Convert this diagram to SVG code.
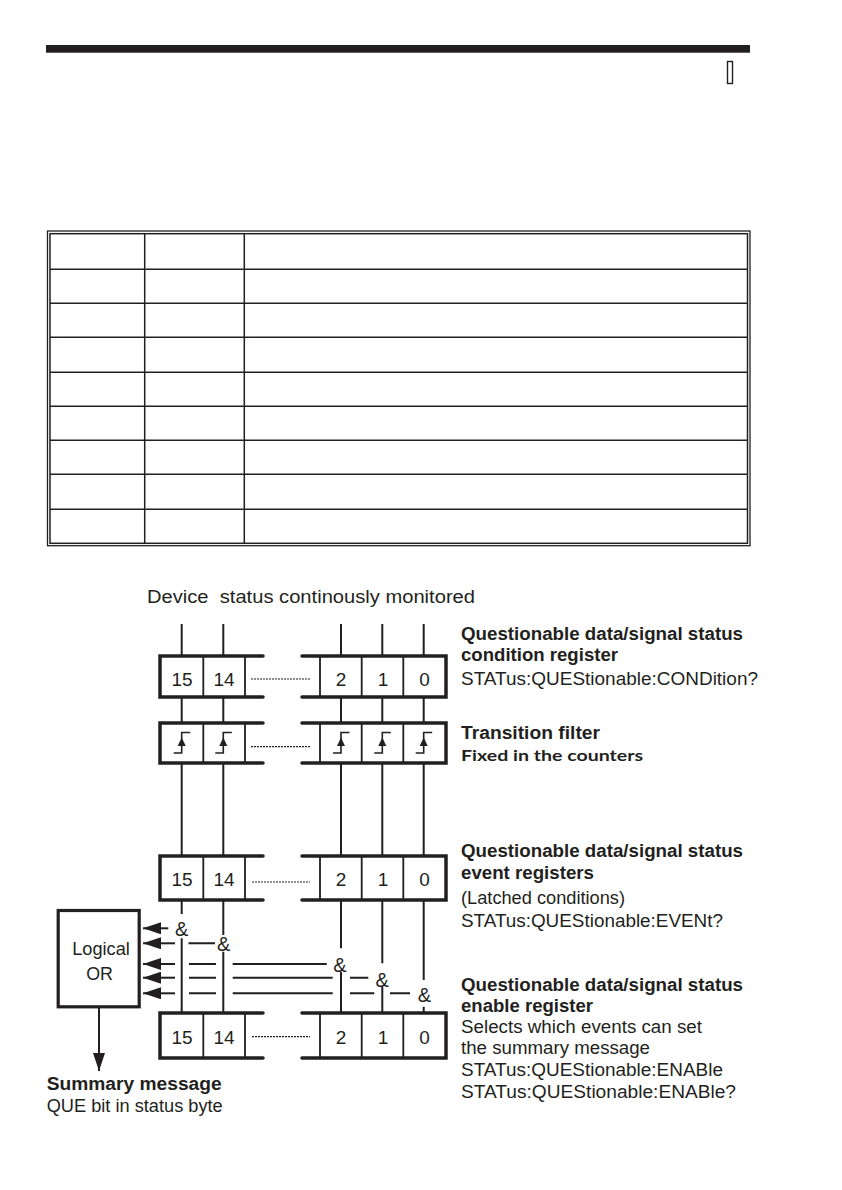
<svg xmlns="http://www.w3.org/2000/svg" width="842" height="1190" viewBox="0 0 842 1190">
<style>
text{font-family:"Liberation Sans",Arial,sans-serif;fill:#231f20}
.b{font-weight:bold}
.lbl{font-size:17.5px}
.dg{font-size:19px;text-anchor:middle}
.amp{font-size:20px;text-anchor:middle}
.hum{font-family:Lato,"Open Sans",sans-serif;font-weight:bold;font-size:15px}
.thick{fill:none;stroke:#231f20;stroke-width:3.5;stroke-linecap:round;stroke-linejoin:miter}
.thin{fill:none;stroke:#231f20;stroke-width:1.8}
.dot{fill:none;stroke:#231f20;stroke-width:1.2;stroke-dasharray:2 1}
.wire{fill:none;stroke:#231f20;stroke-width:2}
.grid{fill:none;stroke:#231f20;stroke-width:1.5}
.step{fill:none;stroke:#231f20;stroke-width:1.6}
</style>
<defs>
<marker id="ah" markerUnits="userSpaceOnUse" markerWidth="19" markerHeight="12" refX="18" refY="6" orient="auto">
<path d="M0,0 L18,6 L0,12 z" fill="#231f20"/>
</marker>
<path id="tr" d="M-8,753 H0 V732.5 H8.5"/>
<path id="trh" d="M0,737.5 L-4,746 L4,746 z"/>
</defs>

<g id="header">
<rect x="46" y="45" width="704" height="7.7" fill="#231f20"/>
<rect x="727.5" y="61.5" width="5" height="22" fill="none" stroke="#231f20" stroke-width="1.4"/>
</g>

<g id="table">
<rect x="47.5" y="231" width="702.5" height="314.7" fill="none" stroke="#231f20" stroke-width="1.3"/>
<rect x="50" y="233.7" width="697.5" height="309.6" class="grid"/>
<path class="grid" d="M144.7,233.7 V543.3 M244.3,233.7 V543.3 M50,269.3 H747.5 M50,303.3 H747.5 M50,337.3 H747.5 M50,372.3 H747.5 M50,406.3 H747.5 M50,440.3 H747.5 M50,474.3 H747.5 M50,509.3 H747.5"/>
</g>

<text id="title" class="lbl" x="147" y="603" textLength="328" lengthAdjust="spacingAndGlyphs" xml:space="preserve">Device  status continously monitored</text>

<g id="connectors">
<path class="wire" d="M181.7,624 V656 M223.3,624 V656 M341,624 V656 M382.3,624 V656 M423.7,624 V656"/>
<path class="wire" d="M181.7,697 V723 M223.3,697 V723 M341,697 V723 M382.3,697 V723 M423.7,697 V723"/>
<path class="wire" d="M181.7,763 V856 M223.3,763 V856 M341,763 V856 M382.3,763 V856 M423.7,763 V856"/>
<path class="wire" d="M181.7,900 V914 M223.3,900 V935 M341,900 V948.3 M382.3,900 V963.3 M423.7,900 V980"/>
<path class="wire" d="M181.7,938.3 V1013 M223.3,951.7 V1013 M341,971.7 V1013 M382.3,986.7 V1013 M423.7,1006.7 V1013"/>
<path class="wire" d="M188.5,943.3 H215 M232.7,964 H326.7 M189,964 H216 M350,977.7 H368.3 M232.7,977.7 H332.7 M189,977.7 H216 M390,993.3 H410 M350,993.3 H374.3 M232.7,993.3 H332.7 M189,993.3 H216"/>
<line class="wire" x1="168.3" y1="928.3" x2="143" y2="928.3" marker-end="url(#ah)"/>
<line class="wire" x1="175" y1="943.3" x2="143" y2="943.3" marker-end="url(#ah)"/>
<line class="wire" x1="175" y1="964" x2="143" y2="964" marker-end="url(#ah)"/>
<line class="wire" x1="175" y1="977.7" x2="143" y2="977.7" marker-end="url(#ah)"/>
<line class="wire" x1="175" y1="993.3" x2="143" y2="993.3" marker-end="url(#ah)"/>
<line class="wire" x1="99" y1="1008" x2="99" y2="1071" marker-end="url(#ah)"/>
</g>

<g id="gates">
<text class="amp" x="181.7" y="935.5">&amp;</text>
<text class="amp" x="223.7" y="950.5">&amp;</text>
<text class="amp" x="340" y="971.5">&amp;</text>
<text class="amp" x="382.2" y="986.5">&amp;</text>
<text class="amp" x="424.3" y="1001.5">&amp;</text>
</g>

<g id="reg-condition">
<path class="thick" d="M263,656 H160 V697 H263 M302,656 H446 V697 H302"/>
<path class="thin" d="M203.3,656 V697 M245,656 V697 M320,656 V697 M361.7,656 V697 M403.3,656 V697"/>
<path class="dot" d="M251,679 H310"/>
<text class="dg" x="182" y="685.5">15</text>
<text class="dg" x="224" y="685.5">14</text>
<text class="dg" x="341" y="685.5">2</text>
<text class="dg" x="383" y="685.5">1</text>
<text class="dg" x="424.5" y="685.5">0</text>
</g>

<g id="reg-transition">
<path class="thick" d="M263,723 H160 V763 H263 M302,723 H446 V763 H302"/>
<path class="thin" d="M203.3,723 V763 M245,723 V763 M320,723 V763 M361.7,723 V763 M403.3,723 V763"/>
<path class="dot" d="M251,746.7 H310"/>
<g class="step">
<use href="#tr" x="181.7"/><use href="#tr" x="223.3"/><use href="#tr" x="341"/><use href="#tr" x="382.3"/><use href="#tr" x="423.7"/>
</g>
<g fill="#231f20">
<use href="#trh" x="181.7"/><use href="#trh" x="223.3"/><use href="#trh" x="341"/><use href="#trh" x="382.3"/><use href="#trh" x="423.7"/>
</g>
</g>

<g id="reg-event">
<path class="thick" d="M263,856 H160 V900 H263 M302,856 H446 V900 H302"/>
<path class="thin" d="M203.3,856 V900 M245,856 V900 M320,856 V900 M361.7,856 V900 M403.3,856 V900"/>
<path class="dot" d="M252,882 H310"/>
<text class="dg" x="182" y="885.5">15</text>
<text class="dg" x="224" y="885.5">14</text>
<text class="dg" x="341" y="885.5">2</text>
<text class="dg" x="383" y="885.5">1</text>
<text class="dg" x="424.5" y="885.5">0</text>
</g>

<g id="reg-enable">
<path class="thick" d="M263,1013 H160 V1058 H263 M302,1013 H446 V1058 H302"/>
<path class="thin" d="M203.3,1013 V1058 M245,1013 V1058 M320,1013 V1058 M361.7,1013 V1058 M403.3,1013 V1058"/>
<path class="dot" d="M252,1036.7 H310"/>
<text class="dg" x="182" y="1044">15</text>
<text class="dg" x="224" y="1044">14</text>
<text class="dg" x="341" y="1044">2</text>
<text class="dg" x="383" y="1044">1</text>
<text class="dg" x="424.5" y="1044">0</text>
</g>

<g id="logical-or">
<rect x="58.2" y="910.5" width="81" height="96.3" fill="none" stroke="#231f20" stroke-width="3.2"/>
<text class="lbl" x="101" y="955" text-anchor="middle" textLength="57.7" lengthAdjust="spacingAndGlyphs">Logical</text>
<text class="lbl" x="99.5" y="980" text-anchor="middle" textLength="26.7" lengthAdjust="spacingAndGlyphs">OR</text>
</g>

<g id="summary">
<text class="lbl b" x="46.7" y="1090" textLength="175" lengthAdjust="spacingAndGlyphs">Summary message</text>
<text class="lbl" x="46.7" y="1111.5" textLength="176" lengthAdjust="spacingAndGlyphs">QUE bit in status byte</text>
</g>

<g id="label-condition">
<text class="lbl b" x="461" y="639.5" textLength="282" lengthAdjust="spacingAndGlyphs">Questionable data/signal status</text>
<text class="lbl b" x="461" y="660.5" textLength="157" lengthAdjust="spacingAndGlyphs">condition register</text>
<text class="lbl" x="461" y="685" textLength="297" lengthAdjust="spacingAndGlyphs">STATus:QUEStionable:CONDition?</text>
</g>

<g id="label-transition">
<text class="lbl b" x="461" y="739" textLength="139" lengthAdjust="spacingAndGlyphs">Transition filter</text>
<text class="hum" x="461" y="761" textLength="182" lengthAdjust="spacingAndGlyphs">Fixed in the counters</text>
</g>

<g id="label-event">
<text class="lbl b" x="461" y="857" textLength="282" lengthAdjust="spacingAndGlyphs">Questionable data/signal status</text>
<text class="lbl b" x="461" y="879" textLength="133" lengthAdjust="spacingAndGlyphs">event registers</text>
<text class="lbl" x="461" y="904" textLength="164" lengthAdjust="spacingAndGlyphs">(Latched conditions)</text>
<text class="lbl" x="461" y="926.5" textLength="262" lengthAdjust="spacingAndGlyphs">STATus:QUEStionable:EVENt?</text>
</g>

<g id="label-enable">
<text class="lbl b" x="461" y="990.5" textLength="282" lengthAdjust="spacingAndGlyphs">Questionable data/signal status</text>
<text class="lbl b" x="461" y="1012" textLength="132" lengthAdjust="spacingAndGlyphs">enable register</text>
<text class="lbl" x="461" y="1033" textLength="241" lengthAdjust="spacingAndGlyphs">Selects which events can set</text>
<text class="lbl" x="461" y="1054" textLength="189" lengthAdjust="spacingAndGlyphs">the summary message</text>
<text class="lbl" x="461" y="1076" textLength="262" lengthAdjust="spacingAndGlyphs">STATus:QUEStionable:ENABle</text>
<text class="lbl" x="461" y="1098" textLength="275" lengthAdjust="spacingAndGlyphs">STATus:QUEStionable:ENABle?</text>
</g>
</svg>
